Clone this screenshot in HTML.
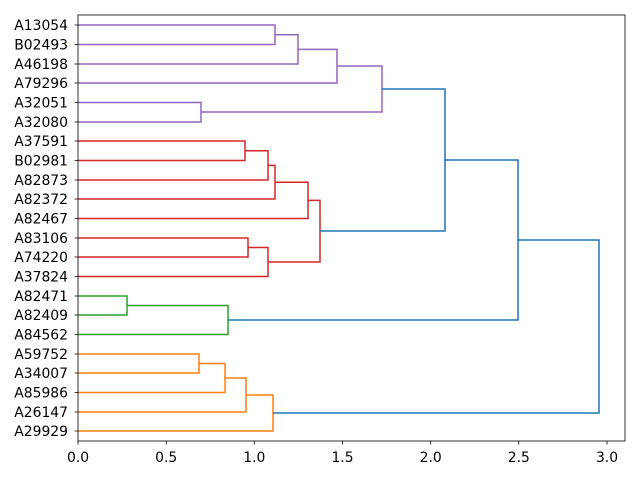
<!DOCTYPE html>
<html><head><meta charset="utf-8"><style>html,body{margin:0;padding:0;background:#fff}</style></head>
<body>
<svg width="640" height="480" xmlns="http://www.w3.org/2000/svg" font-family="DejaVu Sans, Liberation Sans, sans-serif" font-size="13.9">
<rect width="640" height="480" fill="#fff"/>
<g fill="none" stroke-width="1.5">
<g stroke="#9467bd">
<path d="M78,25H275V44.5H78"/>
<path d="M275,34.7H298V64H78"/>
<path d="M298,49.4H337V83H78"/>
<path d="M78,102.5H201V122H78"/>
<path d="M337,66H382V112H201"/>
</g>
<g stroke="#d62728">
<path d="M78,141H245V160.5H78"/>
<path d="M245,150.8H268V180H78"/>
<path d="M268,165.4H275V199H78"/>
<path d="M275,182.2H308V218.5H78"/>
<path d="M78,238H248V257H78"/>
<path d="M248,247.5H268V276.5H78"/>
<path d="M308,200.4H320V262H268"/>
</g>
<g stroke="#2ca02c">
<path d="M78,296H127V315H78"/>
<path d="M127,305.5H228V334.5H78"/>
</g>
<g stroke="#ff7f0e">
<path d="M78,354H199V373H78"/>
<path d="M199,363.5H225V392.5H78"/>
<path d="M225,378H246V412H78"/>
<path d="M246,395H273V431H78"/>
</g>
<g stroke="#1f77b4">
<path d="M382,89H445V231H320"/>
<path d="M445,160H518V320H228"/>
<path d="M518,240H599V413H273"/>
</g>
</g>
<rect x="78" y="15" width="547" height="426" fill="none" stroke="#000" stroke-width="0.8"/>
<g stroke="#000" stroke-width="0.8">
<path d="M78,441v3.5M166.2,441v3.5M254.3,441v3.5M342.5,441v3.5M430.7,441v3.5M518.8,441v3.5M607,441v3.5"/>
<path d="M78,25h-3.5M78,44.5h-3.5M78,64h-3.5M78,83h-3.5M78,102.5h-3.5M78,122h-3.5M78,141h-3.5M78,160.5h-3.5M78,180h-3.5M78,199h-3.5M78,218.5h-3.5M78,238h-3.5M78,257h-3.5M78,276.5h-3.5M78,296h-3.5M78,315h-3.5M78,334.5h-3.5M78,354h-3.5M78,373h-3.5M78,392.5h-3.5M78,412h-3.5M78,431h-3.5"/>
</g>
<g text-anchor="middle" fill="#000">
<text x="78" y="462">0.0</text><text x="166.2" y="462">0.5</text><text x="254.3" y="462">1.0</text><text x="342.5" y="462">1.5</text><text x="430.7" y="462">2.0</text><text x="518.8" y="462">2.5</text><text x="607" y="462">3.0</text>
</g>
<g text-anchor="end" fill="#000">
<text x="68" y="30">A13054</text><text x="68" y="49.5">B02493</text><text x="68" y="69">A46198</text><text x="68" y="88">A79296</text><text x="68" y="107.5">A32051</text><text x="68" y="127">A32080</text><text x="68" y="146">A37591</text><text x="68" y="165.5">B02981</text><text x="68" y="185">A82873</text><text x="68" y="204">A82372</text><text x="68" y="223.5">A82467</text><text x="68" y="243">A83106</text><text x="68" y="262">A74220</text><text x="68" y="281.5">A37824</text><text x="68" y="301">A82471</text><text x="68" y="320">A82409</text><text x="68" y="339.5">A84562</text><text x="68" y="359">A59752</text><text x="68" y="378">A34007</text><text x="68" y="397.5">A85986</text><text x="68" y="417">A26147</text><text x="68" y="436">A29929</text>
</g>
</svg>
</body></html>
